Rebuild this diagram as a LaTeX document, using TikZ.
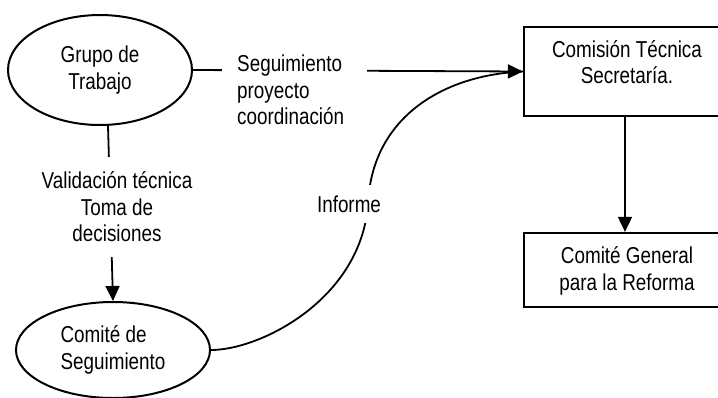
\documentclass[tikz,border=0pt]{standalone}
\usepackage{fontspec}
\setmainfont{Liberation Sans}[FakeStretch=0.82]
\usetikzlibrary{arrows.meta,shapes.geometric}
\begin{document}
\begin{tikzpicture}[x=1pt,y=-1pt,
  every node/.style={font=\fontsize{23}{26.5}\selectfont, inner sep=0pt},
  ell/.style={draw, ellipse, line width=2pt},
  boxn/.style={draw, rectangle, line width=2.2pt},
  txt/.style={align=center},
  conn/.style={line width=1.8pt},
  arr/.style={conn, -{Triangle[length=15pt,width=14pt]}},
  lbl/.style={fill=white}]
\useasboundingbox (0,0) rectangle (718,397);
\clip (0,0) rectangle (718,397);
% nodes
\node[ell, minimum width=184pt, minimum height=110pt, align=center] (gt) at (100,70) {Grupo de\\Trabajo};
\node[ell, minimum width=194pt, minimum height=96pt, align=left] (cs) at (113,350) {Comité de\\Seguimiento};
\node[boxn, minimum width=206pt, minimum height=89pt] (ct) at (627,71.5) {};
\node[txt] (cttext) at (627,62) {Comisión Técnica\\Secretaría.};
\node[boxn, minimum width=206pt, minimum height=74pt] (cg) at (627,270) {};
\node[txt] (cgtext) at (627,271) {Comité General\\para la Reforma};
% connectors
\draw[arr] (gt.east) -- (ct.west);
\draw[arr] ([xshift=8pt]gt.south) -- (cs.north);
\draw[arr] ([xshift=-2pt]ct.south) -- ([xshift=-2pt]cg.north);
\coordinate (cm) at (368,205);
\draw[conn] (cs.east) .. controls (260,350) and (360,300) .. (cm)
  .. controls (371,120) and (440,75) .. (ct.west);
% labels
\node[lbl, anchor=west, inner xsep=15pt, inner ysep=4pt, text width=115pt, align=left] (l1) at (222,90) {Seguimiento\\proyecto\\coordinación};
\node[lbl, minimum height=100pt, inner xsep=4pt, align=center] (l2) at (117,207) {Validación técnica\\Toma de\\decisiones};
\node[lbl, inner xsep=2pt, minimum height=38pt] (l3) at (349,204) {Informe};
\end{tikzpicture}
\end{document}
